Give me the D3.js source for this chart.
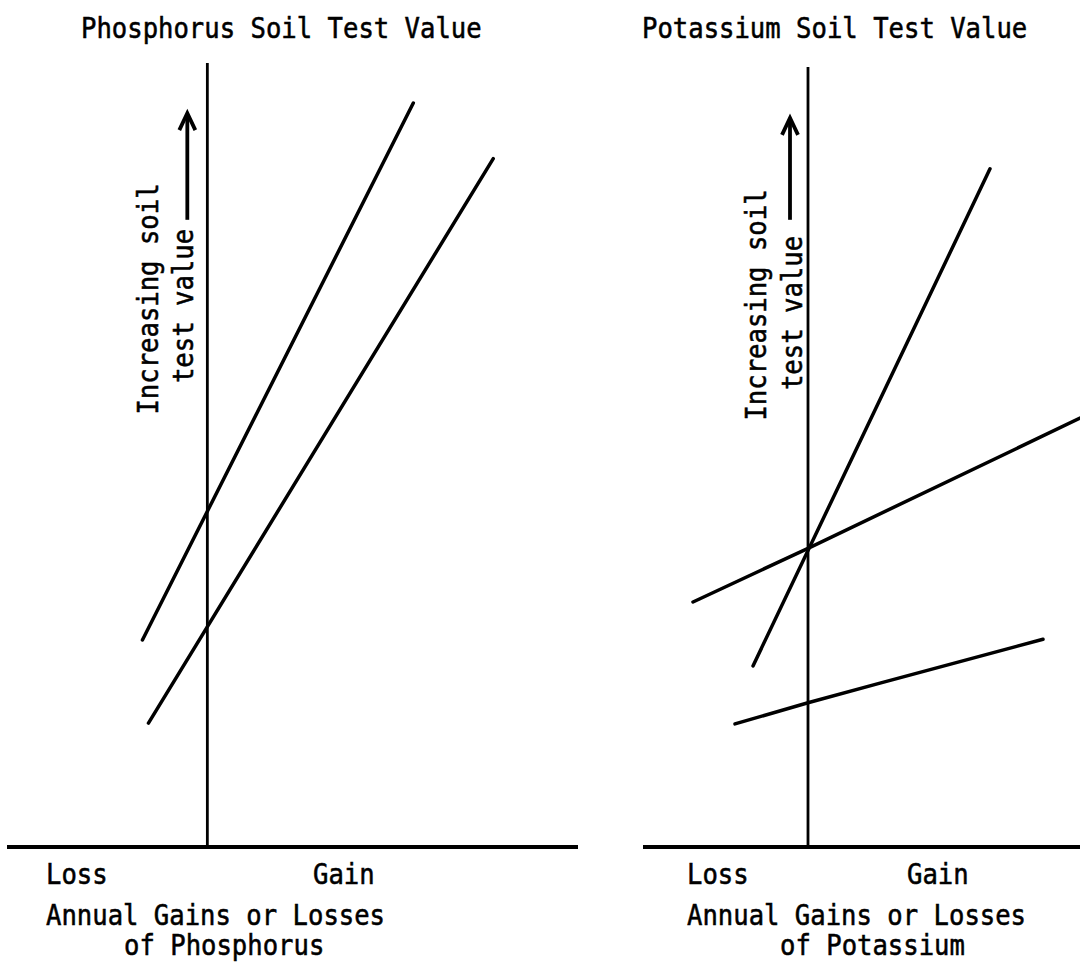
<!DOCTYPE html>
<html>
<head>
<meta charset="utf-8">
<script src="https://cdn.jsdelivr.net/npm/d3@7"></script>
<style>
  body { margin: 0; background: #fff; }
  svg { display: block; }
</style>
</head>
<body>
<div id="chart"></div>
<script>
// Two schematic panels: soil test value vs annual gains/losses (P and K)

// x = annual gain (+) or loss (-), arbitrary units; y = soil test value, 0-100
const phosUpper = [[-3.24, 26.4], [10.28, 94.9]];
const phosLower = [[-2.94, 15.8], [14.27, 87.8]];

const potSteep = [[-2.75, 23.1], [9.1, 86.5]];
const potShallow = [[-5.75, 31.25], [0, 38.1], [13.6, 54.7]];
const potLow = [[-3.65, 15.7], [0, 18.4], [3.6, 20.9], [11.75, 26.5]];

const titles = ["Phosphorus Soil Test Value", "Potassium Soil Test Value"];
const xTickLabels = ["Loss", "Gain"];
const yAxisLabel = ["Increasing soil", "test value"];
const xAxisLabels = [
    ["Annual Gains or Losses", "of Phosphorus"],
    ["Annual Gains or Losses", "of Potassium"]
];

const width = 1080, height = 963;
const FONT = "'DejaVu Sans Mono', monospace";
const FS = 25.6;

const svg = d3.select("#chart")
    .append("svg")
    .attr("width", width)
    .attr("height", height);

svg.append("rect").attr("width", width).attr("height", height).attr("fill", "#fff");

// shared vertical scale
const y = d3.scaleLinear().domain([0, 100]).range([847, 63]);

const panels = [
    {
        x: d3.scaleLinear().domain([-10, 18.5]).range([7, 578]),
        lines: [phosUpper, phosLower],
        axisTop: 100,
        arrowX: -1.0, arrowFrom: 80, arrowTo: 93.6,
        title: { x: 81, y: 38 },
        ticks: [{ x: 46 }, { x: 313 }],
        xlab: [{ x: 46, y: 925 }, { x: 124, y: 955 }],
        ylab: [{ x: 158, y: 299 }, { x: 193, y: 306 }]
    },
    {
        x: d3.scaleLinear().domain([-8.25, 13.6]).range([643, 1080]),
        lines: [potSteep, potShallow, potLow],
        axisTop: 99.5,
        arrowX: -0.9, arrowFrom: 80, arrowTo: 93,
        title: { x: 642, y: 38 },
        ticks: [{ x: 687 }, { x: 907 }],
        xlab: [{ x: 687, y: 925 }, { x: 780, y: 955 }],
        ylab: [{ x: 766, y: 305 }, { x: 802, y: 313 }]
    }
];

function addText(g, str, tx, ty, rotate, anchor) {
    g.append("text")
        .attr("transform", `translate(${tx},${ty})` + (rotate ? " rotate(-90)" : "") + " scale(1,1.1)")
        .attr("text-anchor", anchor || "start")
        .attr("font-family", FONT)
        .attr("font-size", FS)
        .attr("fill", "#000")
        .attr("stroke", "#000")
        .attr("stroke-width", 0.5)
        .text(str);
}

panels.forEach((p, i) => {
    const g = svg.append("g");
    const x = p.x;

    // baseline (x axis)
    g.append("line")
        .attr("x1", x(x.domain()[0])).attr("x2", x(x.domain()[1]))
        .attr("y1", y(0)).attr("y2", y(0))
        .attr("stroke", "#000").attr("stroke-width", 3.8);

    // vertical axis at zero gain
    g.append("line")
        .attr("x1", x(0)).attr("x2", x(0))
        .attr("y1", y(0)).attr("y2", y(p.axisTop))
        .attr("stroke", "#000").attr("stroke-width", 2.8);

    // relationship lines
    const line = d3.line().x(d => x(d[0])).y(d => y(d[1]));
    g.selectAll("path.rel")
        .data(p.lines)
        .enter()
        .append("path")
        .attr("class", "rel")
        .attr("d", line)
        .attr("fill", "none")
        .attr("stroke", "#000")
        .attr("stroke-width", 3.5)
        .attr("stroke-linecap", "round");

    // arrow up
    const ax = x(p.arrowX);
    g.append("line")
        .attr("x1", ax).attr("x2", ax)
        .attr("y1", y(p.arrowFrom)).attr("y2", y(p.arrowTo) + 2)
        .attr("stroke", "#000").attr("stroke-width", 3.8);
    g.append("path")
        .attr("d", `M${ax - 8},${y(p.arrowTo) + 17} L${ax},${y(p.arrowTo)} L${ax + 8},${y(p.arrowTo) + 17}`)
        .attr("fill", "none")
        .attr("stroke", "#000")
        .attr("stroke-width", 3.8)
        .attr("stroke-linejoin", "miter");

    // texts
    addText(g, titles[i], p.title.x, p.title.y);
    xTickLabels.forEach((t, k) => addText(g, t, p.ticks[k].x, 884));
    xAxisLabels[i].forEach((t, k) => addText(g, t, p.xlab[k].x, p.xlab[k].y));
    yAxisLabel.forEach((t, k) => addText(g, t, p.ylab[k].x, p.ylab[k].y, true, "middle"));
});
</script>
</body>
</html>
